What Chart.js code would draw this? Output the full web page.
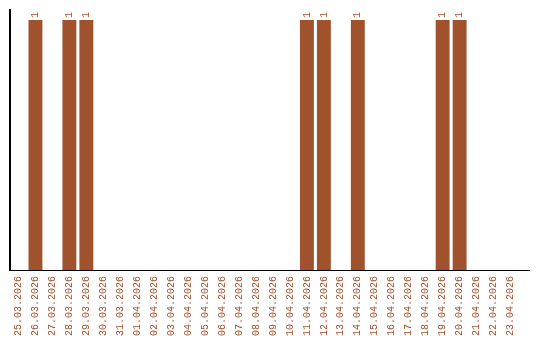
<!DOCTYPE html>
<html>
<head>
<meta charset="utf-8">
<script src="https://cdn.jsdelivr.net/npm/chart.js@4/dist/chart.umd.min.js"></script>
<style>
html,body{margin:0;padding:0;background:#fff;}
#wrap{width:540px;height:340px;}
</style>
</head>
<body>
<div id="wrap"><canvas id="c" width="540" height="340"></canvas></div>
<script>
const categories = ["25.03.2026","26.03.2026","27.03.2026","28.03.2026","29.03.2026","30.03.2026","31.03.2026","01.04.2026","02.04.2026","03.04.2026","04.04.2026","05.04.2026","06.04.2026","07.04.2026","08.04.2026","09.04.2026","10.04.2026","11.04.2026","12.04.2026","13.04.2026","14.04.2026","15.04.2026","16.04.2026","17.04.2026","18.04.2026","19.04.2026","20.04.2026","21.04.2026","22.04.2026","23.04.2026"];
const values = [0,1,0,1,1,0,0,0,0,0,0,0,0,0,0,0,0,1,1,0,1,0,0,0,0,1,1,0,0,0];

const brown = "#A0522D";
const fontFamily = "'Liberation Mono', 'DejaVu Sans Mono', monospace";

const labelPlugin = {
  id: 'barLabels',
  afterDatasetsDraw(chart) {
    const ctx = chart.ctx;
    const meta = chart.getDatasetMeta(0);
    ctx.save();
    ctx.fillStyle = brown;
    ctx.font = "10px " + fontFamily;
    ctx.textAlign = "left";
    ctx.textBaseline = "middle";
    meta.data.forEach((bar, i) => {
      const v = values[i];
      if (!v) return;
      ctx.save();
      ctx.translate(bar.x, bar.y - 2);
      ctx.rotate(-Math.PI / 2);
      ctx.fillText(String(v), 0, 0);
      ctx.restore();
    });
    ctx.restore();
  },
  afterDraw(chart) {
    const ctx = chart.ctx;
    const a = chart.chartArea;
    ctx.save();
    ctx.strokeStyle = "#000";
    ctx.lineWidth = 1;
    ctx.beginPath();
    ctx.moveTo(a.right, Math.round(a.bottom) + 0.5);
    ctx.lineTo(530, Math.round(a.bottom) + 0.5);
    ctx.stroke();
    ctx.restore();
  }
};

new Chart(document.getElementById('c'), {
  type: 'bar',
  data: {
    labels: categories,
    datasets: [{
      data: values,
      backgroundColor: brown,
      borderWidth: 0,
      barPercentage: 0.82,
      categoryPercentage: 1.0
    }]
  },
  options: {
    responsive: false,
    animation: false,
    devicePixelRatio: 1,
    layout: { padding: { top: 10, right: 21, left: 0, bottom: 0 } },
    plugins: { legend: { display: false }, tooltip: { enabled: false } },
    scales: {
      x: {
        grid: { display: false, drawTicks: false },
        border: { display: true, color: "#000", width: 1 },
        ticks: {
          color: brown,
          font: { family: fontFamily, size: 10 },
          minRotation: 90, maxRotation: 90,
          autoSkip: false,
          padding: 6
        },
        afterFit(s) { s.height = 70; }
      },
      y: {
        min: 0, max: 1.04,
        grid: { display: false, drawTicks: false },
        border: { display: true, color: "#000", width: 2 },
        ticks: { display: false },
        afterFit(s) { s.width = 10; }
      }
    }
  },
  plugins: [labelPlugin]
});
</script>
</body>
</html>
